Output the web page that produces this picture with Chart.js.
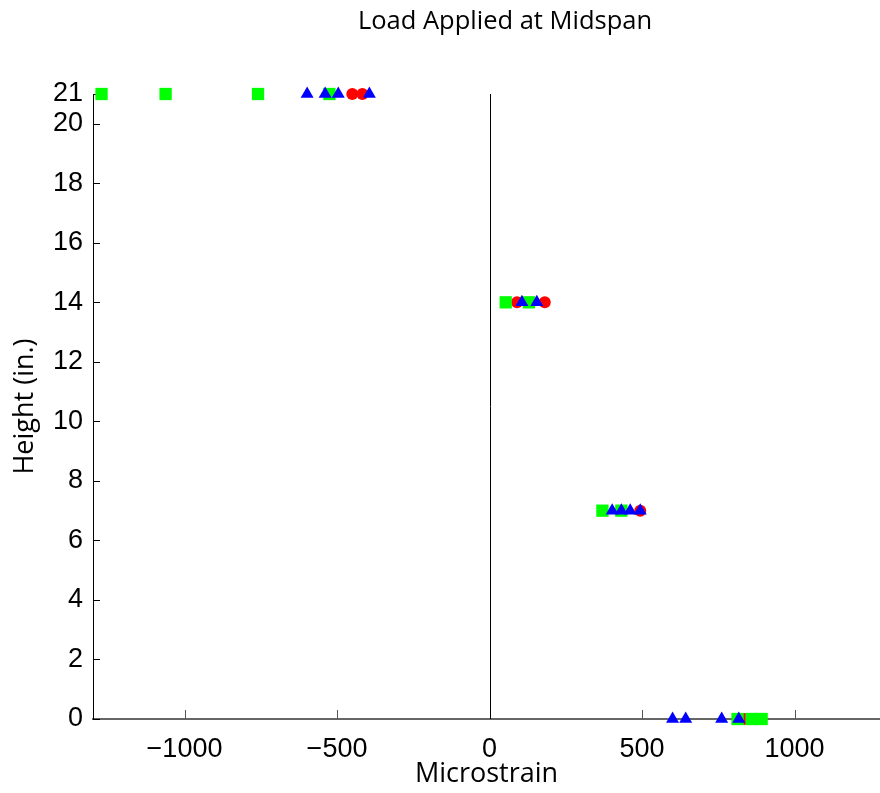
<!DOCTYPE html>
<html>
<head>
<meta charset="utf-8">
<script src="https://cdn.jsdelivr.net/npm/chart.js@4/dist/chart.umd.min.js"></script>
<style>
  html, body { margin: 0; padding: 0; background: #fff; overflow: hidden; }
  #c { display: block; }
</style>
</head>
<body>
<canvas id="c" width="880" height="793"></canvas>
<script>
// ---- Data ----
const titleText = "Load Applied at Midspan";
const xLabel = "Microstrain";
const yLabel = "Height (in.)";

const xTicks = [-1000, -500, 0, 500, 1000];
const yTicks = [0, 2, 4, 6, 8, 10, 12, 14, 16, 18, 20, 21];

// Red circles
const redHeights = [21, 21, 14, 14, 7, 0];
const redStrain  = [-450, -417, 90, 181, 494, 836];

// Green squares
const greenHeights = [21, 21, 21, 21, 14, 14, 7, 7, 0, 0, 0];
const greenStrain  = [-1272, -1062, -759, -525, 53, 129, 370, 432, 813, 859, 892];

// Blue triangles
const blueHeights = [21, 21, 21, 21, 14, 14, 7, 7, 7, 7, 0, 0, 0, 0];
const blueStrain  = [-598, -539, -496, -394, 106, 155, 402, 432, 461, 494, 600, 643, 761, 817];

const toPts = (xs, ys) => xs.map((x, i) => ({ x: x, y: ys[i] }));

const tickFont = { family: "'Liberation Sans', Arial, sans-serif", size: 27 };
const labelFont = { family: "'Open Sans', 'Noto Sans', sans-serif", size: 27 };

const decorPlugin = {
  id: 'decor',
  beforeDatasetsDraw(chart) {
    const { ctx, chartArea, scales } = chart;
    const xs = scales.x, ys = scales.y;
    ctx.save();
    // zero line
    const x0 = xs.getPixelForValue(0);
    ctx.strokeStyle = '#000';
    ctx.lineWidth = 1;
    ctx.beginPath();
    ctx.moveTo(Math.round(x0) + 0.5, chartArea.top);
    ctx.lineTo(Math.round(x0) + 0.5, chartArea.bottom);
    ctx.stroke();
    // inward y ticks
    ys.ticks.forEach(t => {
      const py = Math.round(ys.getPixelForValue(t.value)) + 0.5;
      ctx.beginPath();
      ctx.moveTo(chartArea.left, py);
      ctx.lineTo(chartArea.left + 7, py);
      ctx.stroke();
    });
    // inward x ticks
    ctx.strokeStyle = '#555';
    xs.ticks.forEach(t => {
      if (t.value === 0) return;
      const px = Math.round(xs.getPixelForValue(t.value)) + 0.5;
      ctx.beginPath();
      ctx.moveTo(px, chartArea.bottom);
      ctx.lineTo(px, chartArea.bottom - 9);
      ctx.stroke();
    });
    ctx.restore();
  },
  afterDraw(chart) {
    const { ctx } = chart;
    ctx.save();
    ctx.fillStyle = '#000';
    ctx.font = "25.5px 'Open Sans', 'Noto Sans', sans-serif";
    ctx.textAlign = 'center';
    ctx.textBaseline = 'middle';
    ctx.fillText(titleText, 505, 22);
    ctx.restore();
  }
};

new Chart(document.getElementById('c'), {
  type: 'scatter',
  data: {
    datasets: [
      {
        label: 'blue',
        data: toPts(blueStrain, blueHeights),
        pointStyle: 'triangle',
        pointRadius: 7.5,
        backgroundColor: '#0000ff',
        borderColor: '#0000ff',
        borderWidth: 0,
        clip: false
      },
      {
        label: 'green',
        data: toPts(greenStrain, greenHeights),
        pointStyle: 'rect',
        pointRadius: 8.7,
        backgroundColor: '#00ff00',
        borderColor: '#00ff00',
        borderWidth: 0,
        clip: false
      },
      {
        label: 'red',
        data: toPts(redStrain, redHeights),
        pointStyle: 'circle',
        pointRadius: 6,
        backgroundColor: '#ff0000',
        borderColor: '#ff0000',
        borderWidth: 0,
        clip: false
      }
    ]
  },
  options: {
    responsive: false,
    animation: false,
    layout: { autoPadding: false, padding: { top: 94, right: 0, left: 0, bottom: 0 } },
    plugins: {
      legend: { display: false },
      tooltip: { enabled: false },
      title: { display: false }
    },
    scales: {
      x: {
        type: 'linear',
        min: -1300,
        max: 1280,
        afterBuildTicks: (s) => { s.ticks = xTicks.map(v => ({ value: v })); },
        afterFit: (s) => { s.height = 74; s.paddingLeft = 0; s.paddingRight = 0; },
        grid: { display: false, drawTicks: false },
        border: { display: true, color: '#666', width: 2 },
        ticks: {
          font: tickFont,
          color: '#000',
          padding: 14,
          maxRotation: 0,
          autoSkip: false,
          callback: (v) => (v < 0 ? '\u2212' + Math.abs(v) : String(v))
        },
        title: {
          display: true,
          text: xLabel,
          font: labelFont,
          color: '#000',
          padding: { top: 0, bottom: 2 }
        }
      },
      y: {
        type: 'linear',
        min: 0,
        max: 21,
        afterBuildTicks: (s) => { s.ticks = yTicks.map(v => ({ value: v })); },
        afterFit: (s) => { s.width = 93; s.paddingTop = 0; s.paddingBottom = 0; },
        grid: { display: false, drawTicks: false },
        border: { display: true, color: '#000', width: 1 },
        ticks: {
          font: tickFont,
          color: '#000',
          padding: 10,
          autoSkip: false,
          callback: (v) => String(v)
        },
        title: {
          display: true,
          text: yLabel,
          font: labelFont,
          color: '#000',
          padding: { top: 9, bottom: 0 }
        }
      }
    }
  },
  plugins: [decorPlugin]
});
</script>
</body>
</html>
